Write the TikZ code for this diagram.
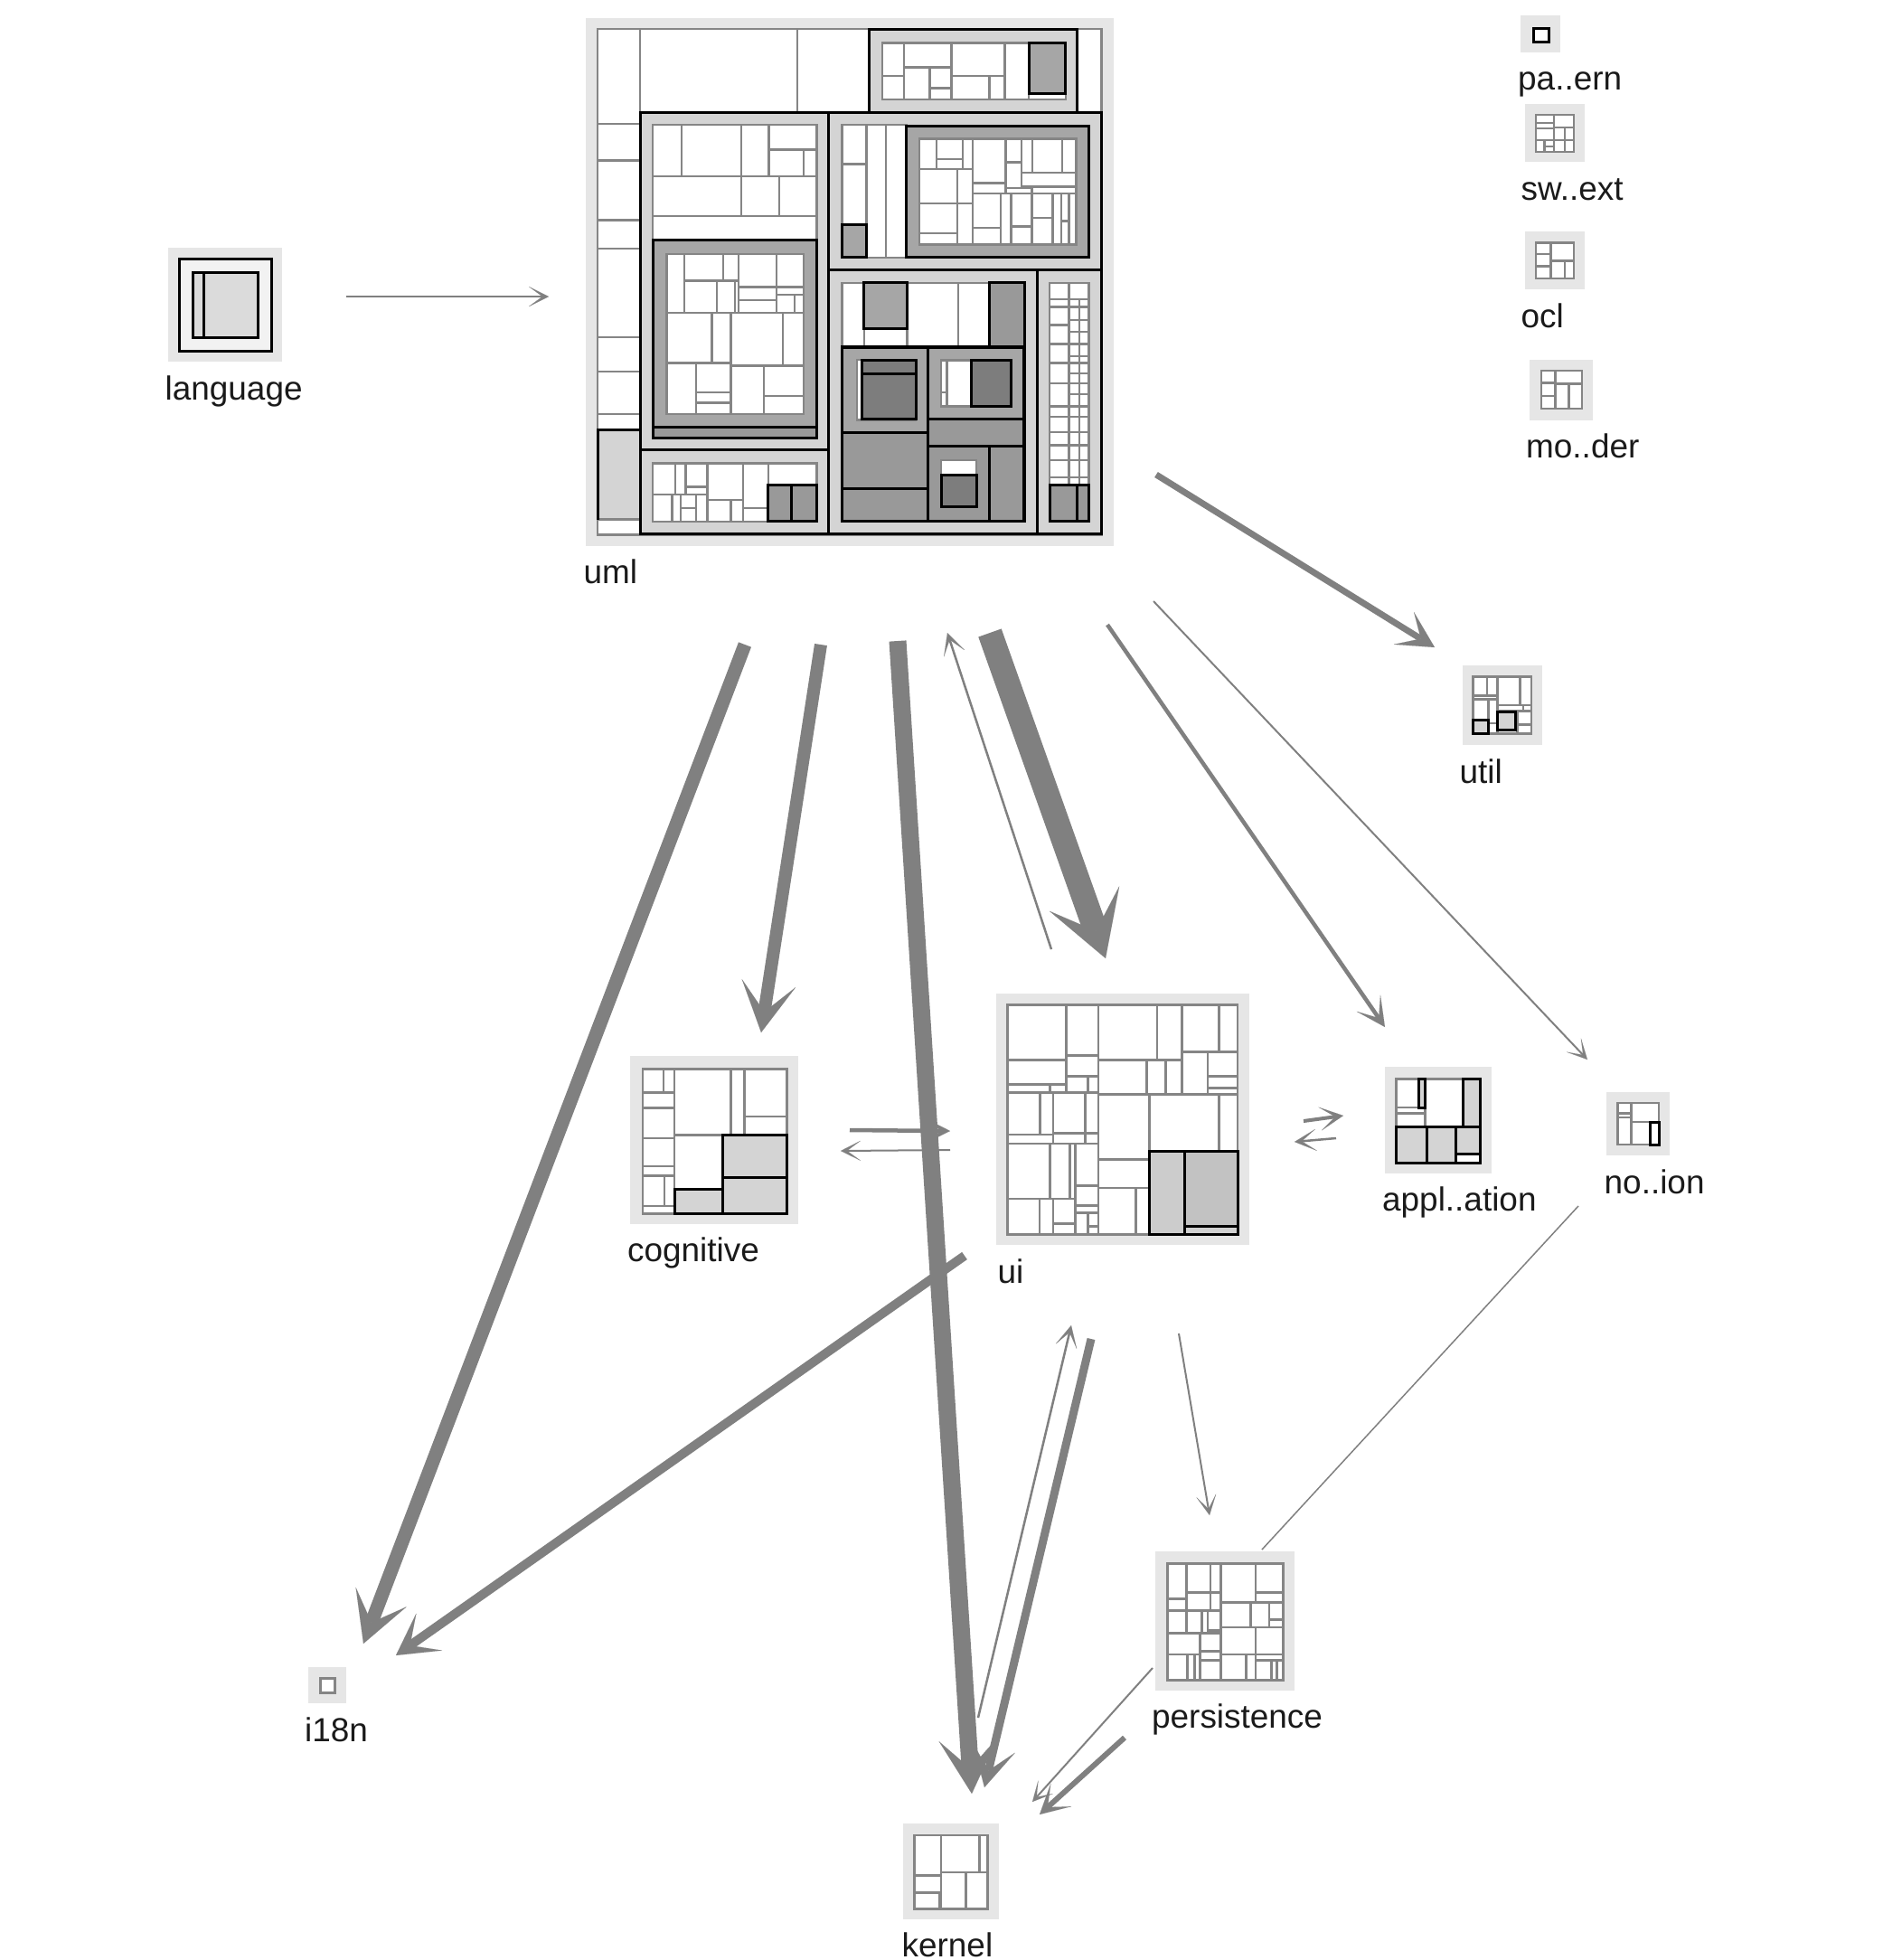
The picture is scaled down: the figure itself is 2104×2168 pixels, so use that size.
\documentclass[tikz,border=0pt]{standalone}
\usepackage{fontspec}
\setmainfont{Liberation Sans}
\usetikzlibrary{arrows.meta}
\definecolor{frgray}{HTML}{E6E6E6}
\definecolor{tmgray}{HTML}{858585}
\definecolor{pkA}{HTML}{D4D4D4}
\definecolor{pkB}{HTML}{A6A6A6}
\definecolor{pkC}{HTML}{999999}
\definecolor{pkD}{HTML}{7D7D7D}
\definecolor{argray}{HTML}{808080}
\definecolor{txt}{HTML}{1A1A1A}
\begin{document}
\begin{tikzpicture}[x=0.01cm,y=-0.01cm,
  pkg/.style={fill=frgray,draw=none,inner sep=0pt,outer sep=0pt},
  cell/.style={draw=tmgray,fill=white,line width=0.024cm},
  gcell/.style={draw=tmgray,line width=0.024cm},
  bk/.style={draw=black,line width=0.03cm},
  lbl/.style={font=\fontsize{10.5}{12}\selectfont,text=txt,inner sep=0pt,anchor=base west},
  ar/.style n args={4}{draw=argray,line width=#1,-{Stealth[length=#2,width=#3,inset=#4,line width=0.01pt]}},
  thinarrow/.style={ar={0.02cm}{0.22cm}{0.22cm}{0.15cm}}]
\useasboundingbox (0,0) rectangle (2104,2168);

% ---------- package frames ----------
\node[pkg,minimum width=5.84cm,minimum height=5.83cm] (uml) at (940,312) {};
\node[pkg,minimum width=1.26cm,minimum height=1.26cm] (language) at (249,337) {};
\node[pkg,minimum width=0.43cm,minimum height=0.41cm] (paern) at (1704,37) {};
\node[pkg,minimum width=0.66cm,minimum height=0.64cm] (swext) at (1720,147) {};
\node[pkg,minimum width=0.66cm,minimum height=0.64cm] (ocl) at (1720,288) {};
\node[pkg,minimum width=0.69cm,minimum height=0.67cm] (moder) at (1727,431) {};
\node[pkg,minimum width=0.88cm,minimum height=0.88cm] (util) at (1662,780) {};
\node[pkg,minimum width=1.85cm,minimum height=1.85cm] (cognitive) at (790,1261) {};
\node[pkg,minimum width=2.80cm,minimum height=2.78cm] (ui) at (1242,1238) {};
\node[pkg,minimum width=1.17cm,minimum height=1.17cm] (appl) at (1591,1239) {};
\node[pkg,minimum width=0.70cm,minimum height=0.70cm] (noion) at (1812,1243) {};
\node[pkg,minimum width=1.53cm,minimum height=1.53cm] (persistence) at (1355,1793) {};
\node[pkg,minimum width=0.41cm,minimum height=0.40cm] (i18n) at (362,1864) {};
\node[pkg,minimum width=1.06cm,minimum height=1.05cm] (kernel) at (1052,2070) {};

% ---------- labels ----------
\node[lbl] (uml-l) at ([shift={(-3,42)}]uml.south west) {uml};
\node[lbl] (language-l) at ([shift={(-4,42)}]language.south west) {language};
\node[lbl] (paern-l) at ([shift={(-4,42)}]paern.south west) {pa..ern};
\node[lbl] (swext-l) at ([shift={(-5,42)}]swext.south west) {sw..ext};
\node[lbl] (ocl-l) at ([shift={(-5,42)}]ocl.south west) {ocl};
\node[lbl] (moder-l) at ([shift={(-5,42)}]moder.south west) {mo..der};
\node[lbl] (util-l) at ([shift={(-4,42)}]util.south west) {util};
\node[lbl] (cognitive-l) at ([shift={(-4,42)}]cognitive.south west) {cognitive};
\node[lbl] (ui-l) at ([shift={(1,42)}]ui.south west) {ui};
\node[lbl] (appl-l) at ([shift={(-4,42)}]appl.south west) {appl..ation};
\node[lbl] (noion-l) at ([shift={(-3,42)}]noion.south west) {no..ion};
\node[lbl] (persistence-l) at ([shift={(-5,42)}]persistence.south west) {persistence};
\node[lbl] (i18n-l) at ([shift={(-5,42)}]i18n.south west) {i18n};
\node[lbl] (kernel-l) at ([shift={(-2,42)}]kernel.south west) {kernel};

% ---------- uml treemap ----------
\begin{scope}[shift={(640,15)},scale=0.3827]
\draw[cell] (55,45) rectangle (1512,1508);
\foreach \a/\b/\c/\d in {55/45/178/318,55/318/178/425,55/425/178/597,55/597/178/680,55/680/178/935,55/935/178/1035,55/1035/178/1158,55/1158/178/1203,55/1462/178/1505,178/45/632/285,632/45/840/285,1440/45/1512/285}
  \draw[cell] (\a,\b) rectangle (\c,\d);
\draw[gcell,fill=pkA] (55,1203) rectangle (178,1462);
\draw[bk] (55,1462) -- (55,1203) -- (178,1203);
% top package
\draw[bk,fill=pkA] (840,45) rectangle (1440,285);
\draw[cell] (878,85) rectangle (1408,248);
\foreach \a/\b/\c/\d in {878/85/940/180,878/180/940/248,940/85/1078/155,940/155/1015/248,1015/155/1078/215,1015/215/1078/248,1078/85/1232/180,1078/180/1188/248,1188/180/1232/248,1232/85/1302/248,1302/232/1408/248}
  \draw[cell] (\a,\b) rectangle (\c,\d);
\draw[bk,fill=pkB] (1302,85) rectangle (1408,232);
% middle-left package
\draw[bk,fill=pkA] (178,285) rectangle (722,1262);
\foreach \a/\b/\c/\d in {215/322/298/470,298/322/470/470,470/322/550/470,550/322/688/393,550/393/650/470,650/393/688/470,215/470/470/585,470/470/580/585,580/470/688/585,215/585/688/655}
  \draw[cell] (\a,\b) rectangle (\c,\d);
\draw[bk,fill=pkB] (215,655) rectangle (688,1228);
\draw[bk,fill=pkC] (215,1195) rectangle (688,1228);
\draw[cell] (255,695) rectangle (650,1158);
\foreach \a/\b/\c/\d in {255/695/305/865,305/695/418/772,418/695/462/772,462/695/572/790,572/695/650/790,305/772/400/865,400/772/452/865,452/772/462/865,462/790/572/828,462/828/572/865,572/790/650/812,572/812/625/865,625/812/650/865,255/865/385/1010,385/865/440/1010,440/865/590/1018,590/865/650/1018,255/1010/340/1158,340/1010/440/1095,340/1095/440/1125,340/1125/440/1158,440/1018/535/1158,535/1018/650/1105,535/1105/650/1158}
  \draw[cell] (\a,\b) rectangle (\c,\d);
% bottom-left package
\draw[bk,fill=pkA] (178,1262) rectangle (722,1505);
\foreach \a/\b/\c/\d in {215/1300/280/1390,280/1300/310/1390,310/1300/372/1368,310/1368/372/1390,372/1300/475/1405,475/1300/548/1430,548/1300/688/1362,215/1390/270/1468,270/1390/295/1468,295/1390/340/1430,295/1430/340/1468,340/1390/372/1468,372/1405/440/1468,440/1405/475/1468,475/1430/548/1468}
  \draw[cell] (\a,\b) rectangle (\c,\d);
\draw[bk,fill=pkC] (548,1362) rectangle (688,1468);
\draw[bk] (615,1362) -- (615,1468);
% right-top package
\draw[bk,fill=pkA] (722,285) rectangle (1512,740);
\foreach \a/\b/\c/\d in {762/322/832/435,762/435/832/610,832/322/888/705,888/322/948/705}
  \draw[cell] (\a,\b) rectangle (\c,\d);
\draw[bk,fill=pkB] (762,610) rectangle (832,705);
\draw[bk,fill=pkB] (948,325) rectangle (1475,705);
\draw[cell] (985,362) rectangle (1438,668);
\foreach \a/\b/\c/\d in {985/362/1035/450,1035/362/1110/420,1035/420/1110/450,1110/362/1140/450,1140/362/1235/490,1235/362/1280/430,1235/430/1280/505,1280/362/1312/460,1312/362/1398/460,1398/362/1438/460,1280/460/1438/500,985/450/1095/548,1095/450/1140/548,1140/490/1235/520,1235/505/1310/520,1310/500/1438/520,985/548/1095/635,985/635/1095/668,1095/548/1140/668,1140/520/1220/620,1140/620/1220/668,1220/520/1250/668,1250/520/1310/615,1250/615/1310/668,1310/520/1370/590,1310/590/1370/668,1370/520/1395/668,1395/520/1418/600,1395/600/1418/668,1418/520/1438/668}
  \draw[cell] (\a,\b) rectangle (\c,\d);
% right-middle-bottom package
\draw[bk,fill=pkA] (722,740) rectangle (1325,1505);
\foreach \a/\b/\c/\d in {762/778/825/962,825/910/950/962,950/778/1098/962,1098/778/1188/962}
  \draw[cell] (\a,\b) rectangle (\c,\d);
\draw[bk,fill=pkB] (825,778) rectangle (950,910);
\draw[bk,fill=pkC] (1188,778) rectangle (1290,962);
\draw[bk,fill=pkC] (762,962) rectangle (1290,1468);
\draw[bk,fill=pkB] (762,965) rectangle (1010,1210);
\draw[cell] (805,1000) rectangle (975,1175);
\draw[bk,fill=pkD] (818,1002) rectangle (975,1172);
\draw[bk] (818,1040) -- (975,1040);
\draw[bk,fill=pkB] (1010,965) rectangle (1288,1172);
\foreach \a/\b/\c/\d in {1048/1002/1065/1095,1048/1095/1065/1135,1065/1002/1135/1135}
  \draw[cell] (\a,\b) rectangle (\c,\d);
\draw[bk,fill=pkD] (1135,1002) rectangle (1250,1135);
\draw[bk,fill=pkC] (1010,1172) rectangle (1288,1250);
\draw[bk,fill=pkC] (762,1210) rectangle (1010,1372);
\draw[bk,fill=pkC] (762,1372) rectangle (1010,1468);
\draw[bk,fill=pkC] (1010,1250) rectangle (1188,1468);
\draw[cell] (1048,1290) rectangle (1150,1335);
\draw[bk,fill=pkD] (1048,1335) rectangle (1150,1425);
\draw[bk,fill=pkC] (1188,1250) rectangle (1288,1468);
% right column package
\draw[bk,fill=pkA] (1325,740) rectangle (1512,1505);
\foreach \a/\b in {778/825,825/848,848/900,900/955,955/1010,1010/1068,1068/1135,1135/1165,1165/1210,1210/1248,1248/1290,1290/1340,1340/1362}
  \draw[cell] (1362,\a) rectangle (1418,\b);
\foreach \a/\b in {825/848,848/885,885/920,920/955,955/990,990/1010,1010/1040,1040/1068,1068/1100,1100/1135,1135/1165,1165/1210,1210/1248,1248/1290,1290/1340,1340/1362}
  {\draw[cell] (1418,\a) rectangle (1448,\b); \draw[cell] (1448,\a) rectangle (1475,\b);}
\draw[cell] (1418,778) rectangle (1475,825);
\draw[bk,fill=pkC] (1362,1362) rectangle (1475,1468);
\draw[bk] (1442,1362) -- (1442,1468);
\end{scope}

% ---------- language ----------
\draw[bk,fill=white!95!black] (198,286) rectangle (300,388);
\draw[bk,fill=white!86!black] (213,301) rectangle (285,373);
\draw[bk] (225,301) -- (225,373);

% ---------- right column small packages ----------
\begin{scope}[shift={(1650,0)},scale=0.3444]
\draw[bk,fill=white] (135,90) rectangle (185,135);
\draw[cell] (143,368) rectangle (265,487);
\foreach \a/\b/\c/\d in {143/368/200/395,143/395/200/412,143/412/200/450,143/450/170/487,170/450/200/470,170/470/200/487,200/368/265/410,200/410/235/450,235/410/265/450,200/450/235/487,235/450/265/487}
  \draw[cell] (\a,\b) rectangle (\c,\d);
\draw[cell] (143,780) rectangle (265,895);
\foreach \a/\b/\c/\d in {143/780/190/815,143/815/190/855,143/855/190/895,190/780/265/838,190/838/235/895,235/838/265/895}
  \draw[cell] (\a,\b) rectangle (\c,\d);
\draw[cell] (160,1190) rectangle (290,1312);
\foreach \a/\b/\c/\d in {160/1190/205/1230,160/1230/205/1272,160/1272/205/1312,205/1190/290/1232,205/1232/248/1312,248/1232/290/1312}
  \draw[cell] (\a,\b) rectangle (\c,\d);
\end{scope}

% ---------- util ----------
\begin{scope}[shift={(1500,720)},scale=1/3]
\draw[cell] (388,85) rectangle (582,275);
\foreach \a/\b/\c/\d in {388/85/435/148,435/85/470/148,388/148/470/160,388/160/440/228,440/160/470/240,440/240/470/275,470/85/545/180,545/85/582/180,470/180/555/200,555/180/582/200,535/200/582/245,535/245/582/275,470/262/535/275}
  \draw[cell] (\a,\b) rectangle (\c,\d);
\draw[bk,fill=pkA] (388,228) rectangle (440,275);
\draw[bk,fill=pkA] (470,202) rectangle (530,262);
\end{scope}

% ---------- cognitive ----------
\begin{scope}[shift={(680,1080)},scale=1/3]
\draw[cell] (93,307) rectangle (572,787);
\foreach \a/\b/\c/\d in {93/307/162/385,162/307/198/385,93/385/198/437,93/437/198/537,93/537/198/630,93/630/198/662,93/662/165/762,165/662/198/762,93/762/198/787,198/307/385/527,385/307/430/527,430/307/572/465,430/465/572/527,198/527/358/705}
  \draw[cell] (\a,\b) rectangle (\c,\d);
\foreach \a/\b/\c/\d in {198/705/358/787,358/527/572/668,358/668/572/787}
  \draw[bk,fill=pkA] (\a,\b) rectangle (\c,\d);
\end{scope}

% ---------- ui ----------
\begin{scope}[shift={(1080,1090)},scale=1/3]
\draw[cell] (103,65) rectangle (867,827);
\foreach \a/\b/\c/\d in {103/65/298/248,298/65/405/232,405/65/600/248,600/65/683/248,683/65/805/220,805/65/867/220,103/248/298/328,103/328/245/355,245/328/298/355,298/232/405/302,298/302/370/355,370/302/405/355,405/248/565/362,565/248/628/362,628/248/683/362,683/220/768/362,768/220/867/302,768/302/867/340,768/340/867/362,103/355/212/495,212/355/255/495,255/355/362/490,362/355/405/490,103/495/255/525,255/490/362/525,362/490/405/525,405/362/575/578,575/362/805/550,805/362/867/550,103/525/245/708,245/525/310/708,310/525/328/708,328/525/405/665,328/665/405/730,405/578/575/672,405/672/530/827,530/672/575/827,103/708/210/827,210/708/255/827,255/708/328/790,255/790/328/827,328/730/405/755,328/755/370/827,370/755/405/800,370/800/405/827}
  \draw[cell] (\a,\b) rectangle (\c,\d);
\fill[white!80!black] (575,550) rectangle (690,827);
\fill[white!76!black] (690,550) rectangle (867,800);
\fill[white!82!black] (690,800) rectangle (867,827);
\draw[bk] (575,550) rectangle (867,827);
\draw[bk] (690,550) -- (690,827) (690,800) -- (867,800);
\end{scope}

% ---------- appl..ation and no..ion ----------
\begin{scope}[shift={(1400,1160)},scale=1/3]
\draw[cell] (433,100) rectangle (713,380);
\foreach \a/\b/\c/\d in {433/100/508/195,433/195/530/215,433/215/530/258,530/100/655/258,632/350/713/380}
  \draw[cell] (\a,\b) rectangle (\c,\d);
\foreach \a/\b/\c/\d in {508/100/530/195,655/100/713/258,433/258/535/380,535/258/632/380,632/258/713/350}
  \draw[bk,fill=pkA] (\a,\b) rectangle (\c,\d);
\draw[bk] (632,350) -- (632,380) -- (713,380) -- (713,350);
\draw[cell] (1168,180) rectangle (1305,318);
\foreach \a/\b/\c/\d in {1168/180/1213/215,1168/215/1213/228,1168/228/1213/318,1213/180/1305/243,1213/243/1275/318}
  \draw[cell] (\a,\b) rectangle (\c,\d);
\draw[bk,fill=white] (1275,243) rectangle (1305,318);
\end{scope}

% ---------- persistence ----------
\begin{scope}[shift={(1260,1700)},scale=1/3]
\draw[cell] (95,88) rectangle (478,475);
\foreach \a/\b/\c/\d in {95/88/157/205,157/88/237/185,237/88/272/185,272/88/387/218,387/88/478/185,387/185/478/218,95/205/157/245,157/185/237/245,237/185/272/245,95/245/157/320,157/245/208/320,208/245/228/320,228/245/272/310,228/310/272/320,272/218/370/300,370/218/432/300,432/218/478/275,432/275/478/300,95/320/203/390,203/320/272/380,272/300/387/390,387/300/478/390,95/390/160/475,160/390/185/475,185/390/203/475,203/380/272/410,203/410/272/475,272/390/355/475,355/390/387/475,387/390/478/410,387/410/440/475,440/410/458/475,458/410/478/475}
  \draw[cell] (\a,\b) rectangle (\c,\d);
\end{scope}

% ---------- kernel ----------
\begin{scope}[shift={(980,1980)},scale=1/3]
\draw[cell] (95,150) rectangle (338,395);
\foreach \a/\b/\c/\d in {95/150/183/283,183/150/310/273,310/150/338/273,95/283/183/340,95/340/178/395,178/340/183/395,183/273/265/395,265/273/338/395}
  \draw[cell] (\a,\b) rectangle (\c,\d);
\end{scope}

% ---------- i18n ----------
\begin{scope}[shift={(320,1820)},scale=1/3]
\draw[cell] (103,110) rectangle (152,157);
\end{scope}

% ---------- connectors ----------
\draw[thinarrow] ([shift={(134,-9)}]language.center) -- ([shift={(-333,16)}]uml.center);
\draw[ar={0.07cm}{0.40cm}{0.42cm}{0.22cm}] ([shift={(339,213)}]uml.center) -- ([shift={(-75,-64)}]util.center);
\draw[thinarrow] ([shift={(336,353)}]uml.center) -- ([shift={(-56,-71)}]noion.center);
\draw[ar={0.045cm}{0.32cm}{0.32cm}{0.20cm}] ([shift={(285,379)}]uml.center) -- ([shift={(-59,-103)}]appl.center);
\draw[ar={0.27cm}{0.70cm}{0.82cm}{0.38cm}] ([shift={(155,388)}]uml.center) -- ([shift={(-19,-178)}]ui.center);
\draw[ar={0.025cm}{0.24cm}{0.24cm}{0.16cm}] ([shift={(-79,-188)}]ui.center) -- ([shift={(108,388)}]uml.center);
\draw[ar={0.14cm}{0.55cm}{0.60cm}{0.32cm}] ([shift={(-32,401)}]uml.center) -- ([shift={(52,-119)}]cognitive.center);
\draw[ar={0.15cm}{0.55cm}{0.60cm}{0.30cm}] ([shift={(-116,401)}]uml.center) -- ([shift={(40,-46)}]i18n.center);
\draw[ar={0.19cm}{0.60cm}{0.65cm}{0.32cm}] ([shift={(53,397)}]uml.center) -- ([shift={(23,-86)}]kernel.center);
\draw[ar={0.09cm}{0.45cm}{0.48cm}{0.26cm}] ([shift={(-35,243)}]ui.center) -- ([shift={(37,-93)}]kernel.center);
\draw[ar={0.025cm}{0.24cm}{0.24cm}{0.16cm}] ([shift={(30,-170)}]kernel.center) -- ([shift={(-57,228)}]ui.center);
\draw[thinarrow] ([shift={(62,237)}]ui.center) -- ([shift={(-17,-117)}]persistence.center);
\draw[thinarrow] ([shift={(-80,52)}]persistence.center) -- ([shift={(90,-77)}]kernel.center);
\draw[ar={0.06cm}{0.32cm}{0.34cm}{0.20cm}] ([shift={(-111,129)}]persistence.center) -- ([shift={(98,-63)}]kernel.center);
\draw[draw=argray,line width=0.015cm] ([shift={(-66,91)}]noion.center) -- ([shift={(41,-79)}]persistence.center);
\draw[ar={0.10cm}{0.45cm}{0.50cm}{0.26cm}] ([shift={(-175,151)}]ui.center) -- ([shift={(76,-33)}]i18n.center);
\draw[ar={0.045cm}{0.28cm}{0.28cm}{0.18cm}] ([shift={(150,-11)}]cognitive.center) -- ([shift={(-191,13)}]ui.center);
\draw[thinarrow] ([shift={(-191,34)}]ui.center) -- ([shift={(140,12)}]cognitive.center);
\draw[ar={0.04cm}{0.26cm}{0.26cm}{0.17cm}] ([shift={(200,2)}]ui.center) -- ([shift={(-105,-5)}]appl.center);
\draw[ar={0.025cm}{0.24cm}{0.24cm}{0.16cm}] ([shift={(-113,20)}]appl.center) -- ([shift={(190,25)}]ui.center);
\end{tikzpicture}
\end{document}
